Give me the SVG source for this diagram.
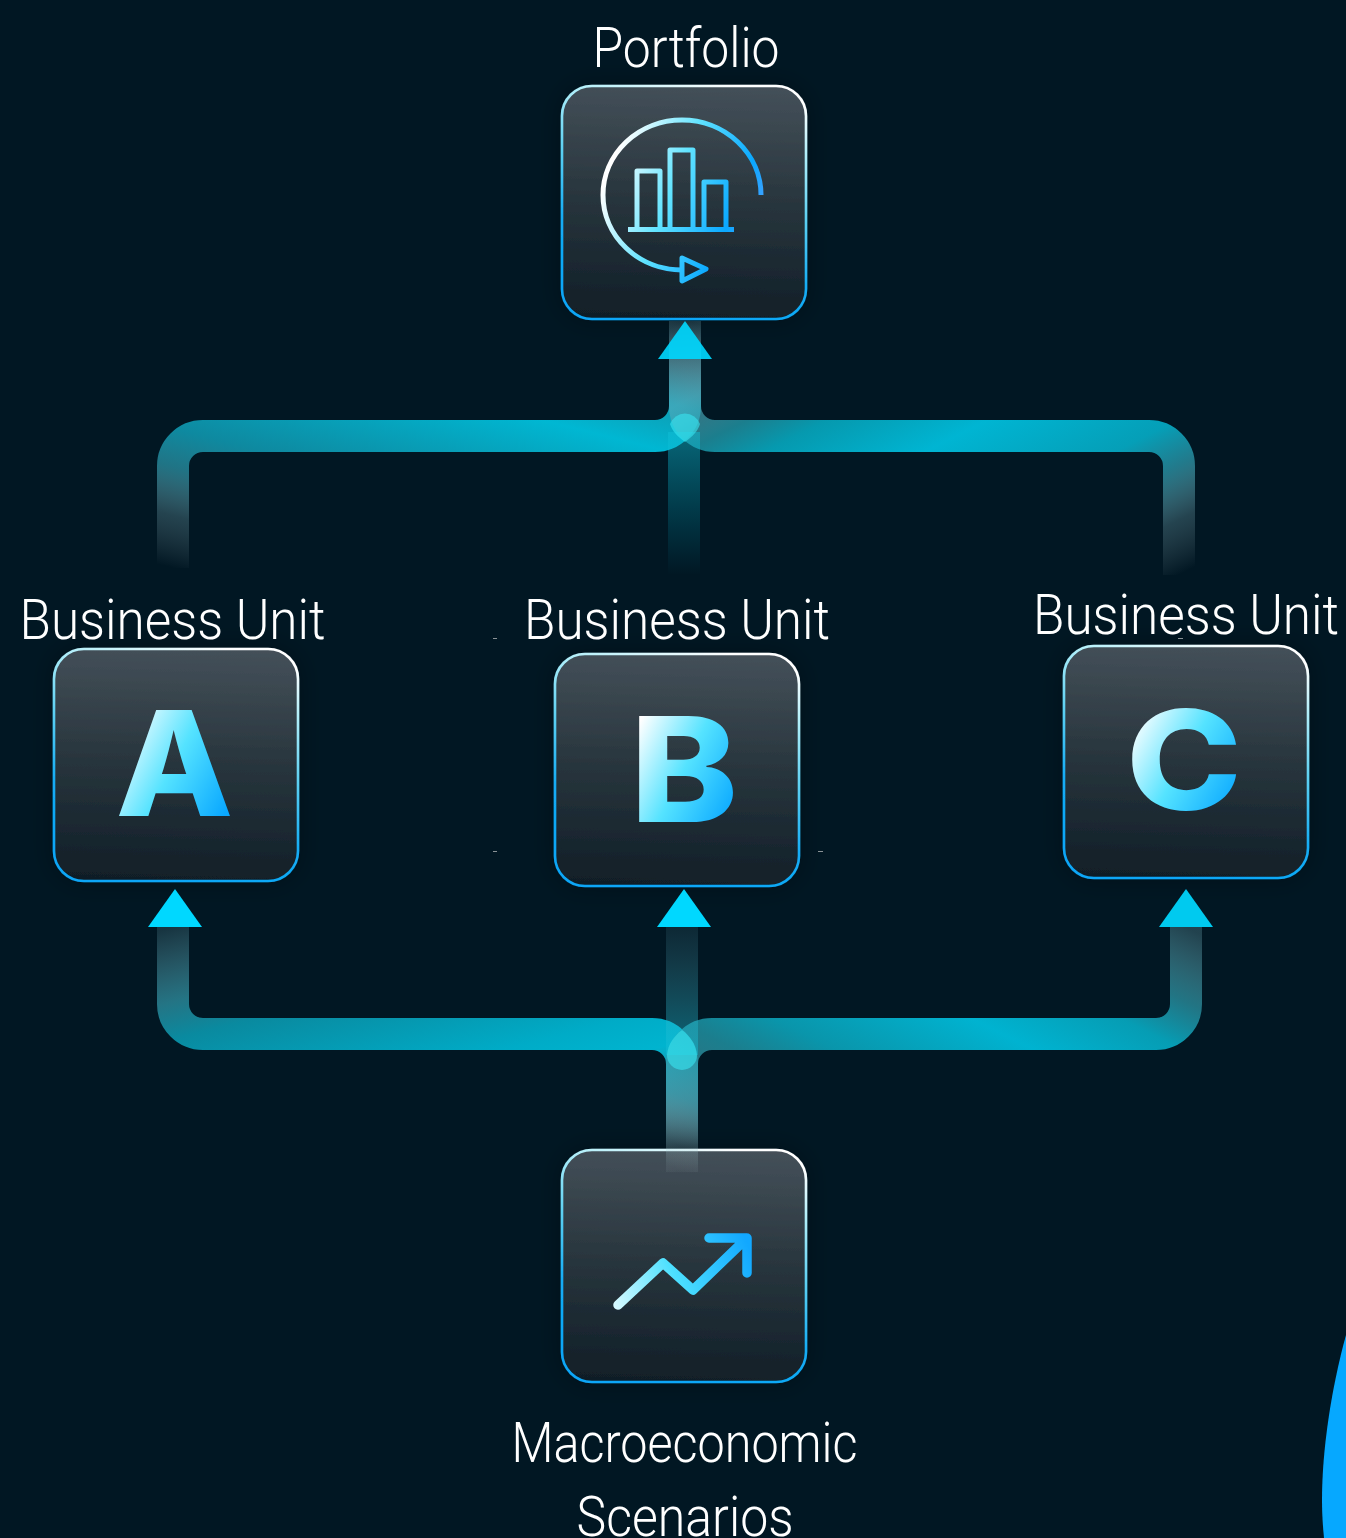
<svg xmlns="http://www.w3.org/2000/svg" width="1346" height="1538" viewBox="0 0 1346 1538">
<style>
.lbl{font-family:"Roboto","Liberation Sans",sans-serif;font-weight:300;font-size:56px;fill:#fff}
.let{font-family:"Inter","Liberation Sans",sans-serif;font-weight:800;font-size:146px;fill:url(#ltr)}
.card{fill:url(#cardF);stroke:url(#cardS);stroke-width:2.6;filter:url(#sh)}
.conn{fill:none;stroke-width:32}
.arr{fill:#00d8ff}
.tick{fill:#8a9296}
.ic{fill:none;stroke-width:5}
.lens{fill:#38e6f2;fill-opacity:.6}
</style>
<defs>
<filter id="sh" x="-15%" y="-15%" width="130%" height="130%"><feDropShadow dx="0" dy="0" stdDeviation="12" flood-color="#000" flood-opacity=".3"/></filter>
<linearGradient id="cardF" x1=".54" y1="-.02" x2=".5" y2="1.04"><stop offset="0" stop-color="#45515a"/><stop offset=".5" stop-color="#27343c"/><stop offset="1" stop-color="#0f1d26"/></linearGradient>
<linearGradient id="cardS" x1=".72" y1="0" x2=".42" y2="1"><stop offset="0" stop-color="#fff"/><stop offset=".18" stop-color="#b5f0fa"/><stop offset=".45" stop-color="#5cd0f2"/><stop offset=".72" stop-color="#14acf5"/><stop offset="1" stop-color="#0aa6f7"/></linearGradient>
<linearGradient id="ltr" x1="0" y1=".1" x2="1" y2=".9"><stop offset=".12" stop-color="#fff"/><stop offset=".5" stop-color="#55e3ff"/><stop offset=".9" stop-color="#0aa8ff"/></linearGradient>
<linearGradient id="ic1" gradientUnits="userSpaceOnUse" x1="610" y1="170" x2="760" y2="230"><stop offset="0" stop-color="#fff"/><stop offset=".4" stop-color="#62e4ff"/><stop offset=".8" stop-color="#0aa8ff"/><stop offset="1" stop-color="#4d9fff"/></linearGradient>
<linearGradient id="ic2" gradientUnits="userSpaceOnUse" x1="615" y1="1305" x2="750" y2="1250"><stop offset="0" stop-color="#d5f9ff"/><stop offset=".45" stop-color="#4de0ff"/><stop offset="1" stop-color="#12a8ff"/></linearGradient>
<linearGradient id="gTL" gradientUnits="userSpaceOnUse" x1="173" y1="568" x2="261" y2="215">
<stop offset="0" stop-color="#c8e0e6" stop-opacity="0"/><stop offset=".14" stop-color="#7fb6c2" stop-opacity=".28"/><stop offset=".27" stop-color="#2a93a6" stop-opacity=".75"/><stop offset=".37" stop-color="#0f8fa6" stop-opacity=".95"/><stop offset=".64" stop-color="#00bcd8" stop-opacity=".97"/><stop offset=".77" stop-color="#10b4cc" stop-opacity=".85"/><stop offset=".88" stop-color="#5fa9b8" stop-opacity=".5"/><stop offset="1" stop-color="#80b0bc" stop-opacity=".1"/></linearGradient>
<linearGradient id="gTR" gradientUnits="userSpaceOnUse" x1="1179" y1="575" x2="978.6" y2="174">
<stop offset="0" stop-color="#c8e0e6" stop-opacity="0"/><stop offset=".11" stop-color="#7fb6c2" stop-opacity=".28"/><stop offset=".22" stop-color="#2a93a6" stop-opacity=".8"/><stop offset=".31" stop-color="#05a3bc" stop-opacity=".97"/><stop offset=".5" stop-color="#00b8d6" stop-opacity=".98"/><stop offset=".66" stop-color="#06a0b6" stop-opacity=".95"/><stop offset=".74" stop-color="#1f8c9c" stop-opacity=".88"/><stop offset=".84" stop-color="#60b0c0" stop-opacity=".55"/><stop offset="1" stop-color="#80b0bc" stop-opacity=".1"/></linearGradient>
<linearGradient id="gBL" gradientUnits="userSpaceOnUse" x1="682" y1="1172" x2="594.5" y2="822">
<stop offset="0" stop-color="#d0e4e8" stop-opacity=".02"/><stop offset=".06" stop-color="#a0c8d0" stop-opacity=".12"/><stop offset=".19" stop-color="#4aa8b8" stop-opacity=".65"/><stop offset=".35" stop-color="#00bcd8" stop-opacity=".95"/><stop offset=".45" stop-color="#00b0cc" stop-opacity=".97"/><stop offset=".7" stop-color="#0a90a6" stop-opacity=".95"/><stop offset=".8" stop-color="#2a8596" stop-opacity=".85"/><stop offset="1" stop-color="#5a8f9c" stop-opacity=".25"/></linearGradient>
<linearGradient id="gBR" gradientUnits="userSpaceOnUse" x1="682" y1="1172" x2="880.8" y2="774.4">
<stop offset="0" stop-color="#d0e4e8" stop-opacity=".02"/><stop offset=".05" stop-color="#a0c8d0" stop-opacity=".12"/><stop offset=".15" stop-color="#4aa8b8" stop-opacity=".55"/><stop offset=".3" stop-color="#1f8c9c" stop-opacity=".88"/><stop offset=".4" stop-color="#0a9cb2" stop-opacity=".95"/><stop offset=".6" stop-color="#00b6d4" stop-opacity=".98"/><stop offset=".75" stop-color="#06a4bc" stop-opacity=".95"/><stop offset=".85" stop-color="#2a8c9c" stop-opacity=".8"/><stop offset="1" stop-color="#6ea8b4" stop-opacity=".3"/></linearGradient>
<linearGradient id="gCT" gradientUnits="userSpaceOnUse" x1="684" y1="575" x2="684" y2="432"><stop offset="0" stop-color="#00b4d0" stop-opacity="0"/><stop offset=".25" stop-color="#00b4d0" stop-opacity=".12"/><stop offset="1" stop-color="#10c0d8" stop-opacity=".48"/></linearGradient>
<linearGradient id="gCB" gradientUnits="userSpaceOnUse" x1="682" y1="1055" x2="682" y2="920"><stop offset="0" stop-color="#10c0d8" stop-opacity=".48"/><stop offset="1" stop-color="#6aa8b8" stop-opacity=".1"/></linearGradient>
</defs>
<rect width="1346" height="1538" fill="#011723"/>
<path id="blob" d="M1346 1335C1331 1390 1322 1450 1322 1500C1322 1515 1323 1528 1324 1538H1346Z" fill="#06a8ff"/>
<g id="node-portfolio">
<rect class="card" x="562" y="86" width="244" height="233" rx="30"/>
<path class="ic" stroke="url(#ic1)" d="M761 195A79 75 0 1 0 682 270"/>
<path class="ic" stroke="url(#ic1)" stroke-linejoin="round" d="M682 258L706 269L682 281Z"/>
<path class="ic" stroke="url(#ic1)" stroke-linejoin="round" d="M637 229V171H660V229M670 229V150H693V229M704 229V182H726V229"/>
<rect x="628" y="227" width="106" height="5" fill="url(#ic1)"/>
<text class="lbl" x="686" y="67" text-anchor="middle" textLength="187" lengthAdjust="spacingAndGlyphs">Portfolio</text>
</g>
<g id="node-a">
<rect class="card" x="54" y="649" width="244" height="232" rx="30"/>
<text class="let" x="174.500" y="816" text-anchor="middle" textLength="118" lengthAdjust="spacingAndGlyphs">A</text>
<text class="lbl" x="172.500" y="639" text-anchor="middle" textLength="306" lengthAdjust="spacingAndGlyphs">Business Unit</text>
</g>
<g id="node-b">
<rect class="card" x="555" y="654" width="244" height="232" rx="30"/>
<text class="let" x="684" y="822" text-anchor="middle" textLength="108" lengthAdjust="spacingAndGlyphs">B</text>
<text class="lbl" x="677" y="639" text-anchor="middle" textLength="306" lengthAdjust="spacingAndGlyphs">Business Unit</text>
</g>
<g id="node-c">
<rect class="card" x="1064" y="646" width="244" height="232" rx="30"/>
<text class="let" x="1184" y="810" text-anchor="middle" textLength="116" lengthAdjust="spacingAndGlyphs" style="font-size:138px">C</text>
<text class="lbl" x="1186" y="634" text-anchor="middle" textLength="306" lengthAdjust="spacingAndGlyphs">Business Unit</text>
</g>
<g id="node-macro">
<rect class="card" x="562" y="1150" width="244" height="232" rx="30"/>
<path fill="none" stroke="url(#ic2)" stroke-width="9.500" stroke-linecap="round" stroke-linejoin="round" d="M618 1305L663 1263L693 1290L747 1238M709 1238H747V1273"/>
<text class="lbl" x="684.500" y="1462" text-anchor="middle" textLength="346" lengthAdjust="spacingAndGlyphs">Macroeconomic</text>
<text class="lbl" x="685" y="1536" text-anchor="middle" textLength="217" lengthAdjust="spacingAndGlyphs">Scenarios</text>
</g>
<g id="connectors">
<path class="conn" stroke="url(#gTL)" d="M173 568V466A30 30 0 0 1 203 436H655A30 30 0 0 0 685 406V321"/>
<path class="conn" stroke="url(#gTR)" d="M1179 575V466A30 30 0 0 0 1149 436H715A30 30 0 0 1 685 406V321"/>
<path class="conn" stroke="url(#gBL)" d="M682 1172V1064A30 30 0 0 0 652 1034H203A30 30 0 0 1 173 1004V927"/>
<path class="conn" stroke="url(#gBR)" d="M682 1172V1064A30 30 0 0 1 712 1034H1156A30 30 0 0 0 1186 1004V927"/>
<path class="conn" stroke="url(#gCT)" d="M684 575V432"/>
<path class="conn" stroke="url(#gCB)" d="M682 1055V927"/>
<path class="lens" d="M685 442C692 437 698 431 700 424A16 16 0 0 0 670 424C672 431 678 437 685 442Z"/>
<path class="lens" d="M682 1030C690 1036 696 1044 697 1055A15 15 0 0 1 667 1055C668 1044 674 1036 682 1030Z"/>
<path class="arr" fill-opacity=".9" d="M685 321L712 359H658Z"/>
<path class="arr" d="M175 889L202 927H148Z"/>
<path class="arr" d="M684 889L711 927H657Z"/>
<path class="arr" fill-opacity=".93" d="M1186 889L1213 927H1159Z"/>
</g>
<g id="ticks">
<rect class="tick" x="493" y="638" width="4" height="1"/>
<rect class="tick" x="493" y="851" width="4" height="1"/>
<rect class="tick" x="818" y="851" width="5" height="1"/>
<rect class="tick" x="1178" y="638" width="5" height="1"/>
</g>
</svg>
